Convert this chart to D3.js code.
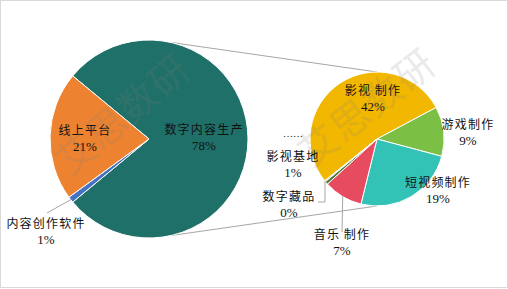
<!DOCTYPE html>
<html>
<head>
<meta charset="utf-8">
<script src="https://cdn.jsdelivr.net/npm/d3@7"></script>
<style>
  body { margin: 0; background: #fff; }
  text { font-family: "Liberation Serif", "Noto Sans CJK SC", serif; }
</style>
</head>
<body>
<script>
// main pie (drawing order, clockwise)
const mainNames = ["数字内容生产", "内容创作软件", "线上平台"];
const mainValues = [78, 1, 21];
const mainColors = ["#1f7068", "#4472c4", "#ed8330"];

// secondary pie: breakdown of 数字内容生产 (share of total)
const subNames = ["影视\u2009制作", "游戏制作", "短视频制作", "音乐\u2009制作", "影视基地", "数字藏品"];
const subValues = [41.6, 9.4, 19.4, 7.4, 0.6, 0.2];
const subColors = ["#f2b700", "#7bbf44", "#33c2b6", "#e64b60", "#4d7a2f", "#a5a5a5"];

const w = 508, h = 289;
const deg = Math.PI / 180;

const svg = d3.select("body").append("svg")
  .attr("width", w)
  .attr("height", h);

svg.append("rect")
  .attr("x", 0.5).attr("y", 0.5)
  .attr("width", w - 1).attr("height", h - 2)
  .attr("fill", "#fff")
  .attr("stroke", "#d9d9d9");

const main = { cx: 149, cy: 139, r: 99 };
const sub = { cx: 377, cy: 139, r: 67 };

// green slice centred at 3 o'clock
const mainStart = (90 - mainValues[0] / 100 * 180) * deg;
const mainPie = d3.pie().sort(null).startAngle(mainStart).endAngle(mainStart + 2 * Math.PI);
const subStart = -128.6 * deg;
const subPie = d3.pie().sort(null).startAngle(subStart).endAngle(subStart + 2 * Math.PI);

const mainArcs = mainPie(mainValues);
const subArcs = subPie(subValues);

const pt = (c, a, r) => [c.cx + r * Math.sin(a), c.cy - r * Math.cos(a)];

// connector lines
const line = d3.line();
[[12.5, 0], [167.5, 180]].forEach(([a1, a2]) => {
  svg.append("path")
    .attr("d", line([pt(main, a1 * deg, main.r), pt(sub, a2 * deg, sub.r)]))
    .attr("stroke", "#a6a6a6")
    .attr("fill", "none");
});

const arcMain = d3.arc().innerRadius(0).outerRadius(main.r);
const arcSub = d3.arc().innerRadius(0).outerRadius(sub.r);

svg.append("g")
  .attr("transform", `translate(${main.cx},${main.cy})`)
  .selectAll("path")
  .data(mainArcs)
  .enter()
  .append("path")
  .attr("d", arcMain)
  .attr("fill", (d, i) => mainColors[i])
  .attr("stroke", "#fff")
  .attr("stroke-width", 1);

svg.append("g")
  .attr("transform", `translate(${sub.cx},${sub.cy})`)
  .selectAll("path")
  .data(subArcs)
  .enter()
  .append("path")
  .attr("d", arcSub)
  .attr("fill", (d, i) => subColors[i])
  .attr("stroke", "#fff")
  .attr("stroke-width", 1);

// leader lines
const mid = d => (d.startAngle + d.endAngle) / 2;
function leader(points) {
  svg.append("path")
    .attr("d", line(points))
    .attr("stroke", "#a6a6a6")
    .attr("fill", "none");
}
leader([pt(main, mid(mainArcs[1]), main.r), [47, 213]]);
leader([pt(sub, mid(subArcs[3]), sub.r), [342, 232]]);
const p5 = pt(sub, mid(subArcs[5]), sub.r);
leader([p5, [p5[0], 202], [318, 202]]);

// label placement: centre x, name line y
const mainLbl = [[204, 131], [46, 225], [85, 132]];
const subLbl = [[373, 92], [468, 126], [438, 184], [342, 236], [293, 158], [289, 198]];

function label(x, y, name, value) {
  svg.append("text")
    .attr("x", x).attr("y", y)
    .attr("text-anchor", "middle")
    .attr("dominant-baseline", "middle")
    .attr("font-size", 12)
    .attr("letter-spacing", 1.2)
    .attr("fill", "#111")
    .text(name);
  svg.append("text")
    .attr("x", x).attr("y", y + 16)
    .attr("text-anchor", "middle")
    .attr("dominant-baseline", "middle")
    .attr("font-size", 13)
    .attr("fill", "#111")
    .text(Math.round(value) + "%");
}
mainNames.forEach((n, i) => label(mainLbl[i][0], mainLbl[i][1], n, mainValues[i]));
subNames.forEach((n, i) => label(subLbl[i][0], subLbl[i][1], n, subValues[i]));

svg.append("text")
  .attr("x", 293).attr("y", 137)
  .attr("text-anchor", "middle")
  .attr("font-size", 10)
  .attr("fill", "#111")
  .text("……");

// watermarks
[[125, 117, -40], [369, 110, -38]].forEach(([x, y, rot]) => {
  svg.append("text")
    .attr("transform", `translate(${x},${y}) rotate(${rot})`)
    .attr("text-anchor", "middle")
    .attr("dominant-baseline", "middle")
    .attr("font-size", 39)
    .attr("letter-spacing", 1.5)
    .attr("fill", "#7f7f7f")
    .attr("opacity", 0.16)
    .style("font-family", "Noto Sans CJK SC")
    .text("艾思数研");
});
</script>
</body>
</html>
